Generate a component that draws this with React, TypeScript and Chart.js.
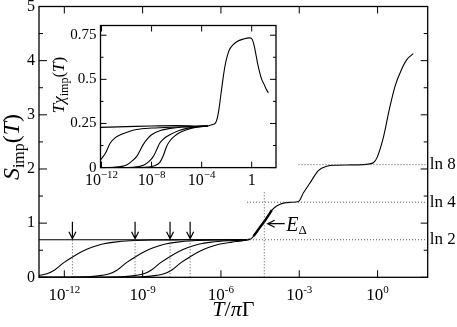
import React, { useEffect, useRef } from 'react';
import { Chart, registerables } from 'chart.js';

Chart.register(...registerables);

const FONT = '"Liberation Serif", "DejaVu Serif", serif';

// ---------------- main plot (x values are log10(T/πΓ)) ----------------
const xMinExp = -12.97;
const xMaxExp = 1.92;
const yMin = 0;
const yMax = 5;

const mainExp = [-12.97, -8, -5.2, -4.885, -4.75, -4.6, -4.45, -4.34, -4.2, -4.05, -3.85, -3.61, -3.3, -3.03, -2.84, -2.59, -2.27, -1.95, -1.56, -1.0, -0.6, -0.35, -0.15, -0.03, 0.2, 0.45, 0.67, 0.9, 1.12, 1.37];
const mainS = [0.693, 0.693, 0.694, 0.70, 0.76, 0.86, 0.96, 1.03, 1.13, 1.24, 1.32, 1.37, 1.385, 1.40, 1.56, 1.74, 1.97, 2.05, 2.07, 2.075, 2.08, 2.09, 2.12, 2.2, 2.54, 3.1, 3.53, 3.82, 4.02, 4.13];

const curve1Exp = [-12.97, -12.67, -12.37, -12.02, -11.67, -11.32, -10.97, -10.57, -10.07, -9.47, -8.67, -7.5, -6.0, -5.0];
const curve1S = [0.035, 0.065, 0.135, 0.27, 0.38, 0.475, 0.55, 0.61, 0.65, 0.675, 0.688, 0.692, 0.693, 0.695];

const curve2Exp = [-12.97, -11.8, -11.0, -10.57, -10.27, -9.97, -9.62, -9.27, -8.92, -8.57, -8.17, -7.67, -7.07, -6.27, -5.3, -5.0];
const curve2S = [0.0, 0.002, 0.012, 0.035, 0.065, 0.135, 0.27, 0.38, 0.475, 0.55, 0.61, 0.65, 0.675, 0.688, 0.692, 0.695];

const curve3Exp = [-12.97, -10.5, -9.7, -9.26, -8.96, -8.66, -8.31, -7.96, -7.61, -7.26, -6.86, -6.36, -5.76, -5.2, -4.9];
const curve3S = [0.0, 0.002, 0.012, 0.035, 0.065, 0.135, 0.27, 0.38, 0.475, 0.55, 0.61, 0.65, 0.675, 0.686, 0.70];

const curve4Exp = [-12.97, -9.7, -8.9, -8.48, -8.18, -7.88, -7.53, -7.18, -6.83, -6.48, -6.08, -5.58, -5.2, -4.9];
const curve4S = [0.0, 0.002, 0.012, 0.035, 0.065, 0.135, 0.27, 0.38, 0.475, 0.55, 0.61, 0.65, 0.672, 0.70];

// reference levels
const levelValues = [Math.log(2), Math.log(4), Math.log(8)];
const levelLabels = ['ln 2', 'ln 4', 'ln 8'];
const levelStartExp = [-5.0, -5.0, -3.03];

// arrows marking the crossover temperatures
const arrowExp = [-11.69, -9.29, -7.95, -7.18];
const eDeltaExp = -4.34;
const eDeltaTop = 1.6;
const eDeltaArrowExp = -4.21;
const eDeltaArrowS = 0.99;

const mainXTickExp = [-12, -9, -6, -3, 0];
const mainYMajor = [0, 1, 2, 3, 4, 5];
const mainYMinor = [0.5, 1.5, 2.5, 3.5, 4.5];

// ---------------- inset (T χ_imp) ----------------
const insetXMinExp = -12.08;
const insetXMaxExp = 1.94;
const insetYMax = 0.805;

const insetTopExp = [-12.08, -10, -8, -6, -5, -4, -3.5, -3.2, -2.9, -2.75, -2.6, -2.45, -2.3, -2.15, -2.0, -1.8, -1.5, -1.2, -0.67, -0.14, 0.05, 0.2, 0.35, 0.5, 0.65, 0.8, 1.0, 1.15, 1.33];
const insetTopChi = [0.228, 0.232, 0.236, 0.238, 0.237, 0.235, 0.236, 0.243, 0.252, 0.28, 0.34, 0.42, 0.5, 0.57, 0.62, 0.665, 0.695, 0.713, 0.728, 0.735, 0.725, 0.69, 0.635, 0.58, 0.535, 0.5, 0.47, 0.445, 0.424];

const insetAExp = [-12.08, -11.7, -11.3, -10.9, -10.5, -9.8, -9.2, -8.0, -6.0, -4.5, -3.5];
const insetAChi = [0.043, 0.08, 0.139, 0.17, 0.186, 0.205, 0.216, 0.224, 0.23, 0.233, 0.236];

const insetBExp = [-12.08, -11.0, -10.0, -9.6, -9.2, -8.9, -8.67, -8.3, -8.0, -7.3, -6.5, -5.5, -4.5, -3.5];
const insetBChi = [0.0, 0.002, 0.015, 0.035, 0.062, 0.1, 0.13, 0.165, 0.186, 0.21, 0.222, 0.23, 0.233, 0.236];

const insetCExp = [-12.08, -9.5, -8.6, -8.2, -7.87, -7.6, -7.34, -7.0, -6.54, -5.8, -5.0, -4.2, -3.5];
const insetCChi = [0.0, 0.002, 0.015, 0.035, 0.062, 0.1, 0.139, 0.165, 0.186, 0.21, 0.225, 0.232, 0.236];

const insetDExp = [-12.08, -8.5, -7.7, -7.34, -7.05, -6.8, -6.5, -6.14, -5.7, -5.2, -4.5, -3.5];
const insetDChi = [0.0, 0.002, 0.012, 0.03, 0.07, 0.12, 0.155, 0.18, 0.2, 0.215, 0.228, 0.236];

const insetXTickExp = [-12, -8, -4, 0];
const insetYMajor = [0, 0.25, 0.5, 0.75];
const insetYLabels = ['0', '0.25', '0.5', '0.75'];
const insetYMinor = [0.125, 0.375, 0.625];

// ---------------- helpers ----------------
type Part = { t: string; size: number; italic?: boolean; dy?: number };

const pts = (exps: number[], vals: number[]) => exps.map((e, i) => ({ x: Math.pow(10, e), y: vals[i] }));

function drawRich(ctx: CanvasRenderingContext2D, parts: Part[], x: number, y: number, align: 'center' | 'left', rot = 0) {
  const fontOf = (p: Part) => `${p.italic ? 'italic ' : ''}${p.size}px ${FONT}`;
  ctx.save();
  ctx.translate(x, y);
  ctx.rotate(rot);
  ctx.textAlign = 'left';
  ctx.textBaseline = 'alphabetic';
  ctx.fillStyle = '#000';
  let w = 0;
  for (const p of parts) {
    ctx.font = fontOf(p);
    w += ctx.measureText(p.t).width;
  }
  let cx = align === 'center' ? -w / 2 : 0;
  for (const p of parts) {
    ctx.font = fontOf(p);
    ctx.fillText(p.t, cx, p.dy || 0);
    cx += ctx.measureText(p.t).width;
  }
  ctx.restore();
}

const curveStyle = {
  borderColor: '#000',
  borderWidth: 1.1,
  pointRadius: 0,
  fill: false,
  cubicInterpolationMode: 'monotone' as const,
};
const dotStyle = {
  borderColor: '#555',
  borderWidth: 1,
  borderDash: [1, 2],
  pointRadius: 0,
  fill: false,
};

const mainDecor = {
  id: 'mainDecor',
  afterDraw(chart: any) {
    const { ctx, chartArea: a } = chart;
    const x = chart.scales.x;
    const y = chart.scales.y;
    ctx.save();
    ctx.strokeStyle = '#000';
    ctx.lineWidth = 1.3;
    ctx.strokeRect(a.left, a.top, a.right - a.left, a.bottom - a.top);
    ctx.lineWidth = 1;
    ctx.beginPath();
    for (const e of mainXTickExp) {
      const px = x.getPixelForValue(Math.pow(10, e));
      ctx.moveTo(px, a.bottom); ctx.lineTo(px, a.bottom - 7);
      ctx.moveTo(px, a.top); ctx.lineTo(px, a.top + 7);
    }
    for (const v of mainYMajor) {
      const py = y.getPixelForValue(v);
      ctx.moveTo(a.left, py); ctx.lineTo(a.left + 8, py);
      ctx.moveTo(a.right, py); ctx.lineTo(a.right - 7, py);
    }
    for (const v of mainYMinor) {
      const py = y.getPixelForValue(v);
      ctx.moveTo(a.left, py); ctx.lineTo(a.left + 4, py);
      ctx.moveTo(a.right, py); ctx.lineTo(a.right - 4, py);
    }
    ctx.stroke();

    // x tick labels
    for (const e of mainXTickExp) {
      drawRich(ctx, [{ t: '10', size: 17 }, { t: String(e), size: 11, dy: -7 }], x.getPixelForValue(Math.pow(10, e)), a.bottom + 22.7, 'center');
    }
    // axis titles
    drawRich(ctx, [
      { t: 'T', size: 22, italic: true },
      { t: '/', size: 22 },
      { t: 'π', size: 22, italic: true },
      { t: 'Γ', size: 22 },
    ], (a.left + a.right) / 2, a.bottom + 39, 'center');
    drawRich(ctx, [
      { t: 'S', size: 24, italic: true },
      { t: 'imp', size: 16, dy: 4.5 },
      { t: '(', size: 24 },
      { t: 'T', size: 24, italic: true },
      { t: ')', size: 24 },
    ], 19, 147, 'center', -Math.PI / 2);

    // downward arrows
    ctx.lineWidth = 1.2;
    ctx.strokeStyle = '#000';
    const ly = y.getPixelForValue(levelValues[0]) - 1;
    for (const e of arrowExp) {
      const px = x.getPixelForValue(Math.pow(10, e));
      ctx.beginPath();
      ctx.moveTo(px, ly - 17); ctx.lineTo(px, ly);
      ctx.moveTo(px - 3.5, ly - 7); ctx.lineTo(px, ly); ctx.lineTo(px + 3.5, ly - 7);
      ctx.stroke();
    }
    // E_Δ arrow + label
    const tx = x.getPixelForValue(Math.pow(10, eDeltaArrowExp));
    const ty = y.getPixelForValue(eDeltaArrowS);
    ctx.beginPath();
    ctx.moveTo(tx + 17, ty); ctx.lineTo(tx, ty);
    ctx.moveTo(tx + 7, ty - 3.5); ctx.lineTo(tx, ty); ctx.lineTo(tx + 7, ty + 3.5);
    ctx.stroke();
    drawRich(ctx, [{ t: 'E', size: 20, italic: true }, { t: 'Δ', size: 13, dy: 2.5 }], tx + 18.5, ty + 7.5, 'left');
    ctx.restore();
  },
};

function mainConfig(): any {
  return {
    type: 'line',
    data: {
      datasets: [
        ...levelValues.map((v, i) => ({ ...dotStyle, data: [{ x: Math.pow(10, levelStartExp[i]), y: v }, { x: Math.pow(10, xMaxExp), y: v }] })),
        ...arrowExp.map((e) => ({ ...dotStyle, data: [{ x: Math.pow(10, e), y: 0 }, { x: Math.pow(10, e), y: levelValues[0] }] })),
        { ...dotStyle, data: [{ x: Math.pow(10, eDeltaExp), y: 0 }, { x: Math.pow(10, eDeltaExp), y: eDeltaTop }] },
        { ...curveStyle, data: pts(curve1Exp, curve1S) },
        { ...curveStyle, data: pts(curve2Exp, curve2S) },
        { ...curveStyle, data: pts(curve3Exp, curve3S) },
        { ...curveStyle, data: pts(curve4Exp, curve4S) },
        { ...curveStyle, data: pts(mainExp, mainS) },
        { ...curveStyle, borderWidth: 2.4, data: pts(mainExp, mainS).filter((p) => p.x >= Math.pow(10, -4.76) && p.x <= Math.pow(10, -4.04)) },
      ],
    },
    options: {
      animation: false,
      responsive: false,
      devicePixelRatio: 1,
      events: [],
      layout: { padding: { top: 6.5, left: 0, right: 0, bottom: 0 } },
      plugins: { legend: { display: false }, tooltip: { enabled: false } },
      scales: {
        x: {
          type: 'logarithmic',
          min: Math.pow(10, xMinExp),
          max: Math.pow(10, xMaxExp),
          grid: { display: false, drawTicks: false },
          border: { display: false },
          ticks: { display: false },
          afterBuildTicks: (s: any) => { s.ticks = mainXTickExp.map((e) => ({ value: Math.pow(10, e) })); },
          afterFit: (s: any) => { s.height = 49.7; s.paddingLeft = 0; s.paddingRight = 0; },
        },
        y: {
          type: 'linear',
          position: 'left',
          min: yMin,
          max: yMax,
          grid: { display: false, drawTicks: false },
          border: { display: false },
          ticks: { padding: 4, color: '#000', font: { family: FONT, size: 16 }, callback: (v: any) => String(v) },
          afterBuildTicks: (s: any) => { s.ticks = mainYMajor.map((v) => ({ value: v })); },
          afterFit: (s: any) => { s.width = 39; s.paddingTop = 0; s.paddingBottom = 0; },
        },
        yR: {
          type: 'linear',
          position: 'right',
          min: yMin,
          max: yMax,
          grid: { display: false, drawTicks: false },
          border: { display: false },
          ticks: { padding: 2, color: '#000', font: { family: FONT, size: 17 }, callback: (_v: any, i: number) => levelLabels[i] },
          afterBuildTicks: (s: any) => { s.ticks = levelValues.map((v) => ({ value: v })); },
          afterFit: (s: any) => { s.width = 29.3; s.paddingTop = 0; s.paddingBottom = 0; },
        },
      },
    },
    plugins: [mainDecor],
  };
}

const insetDecor = {
  id: 'insetDecor',
  beforeDraw(chart: any) {
    const { ctx, chartArea: a } = chart;
    ctx.save();
    ctx.fillStyle = '#fff';
    ctx.fillRect(a.left, a.top, a.right - a.left, a.bottom - a.top);
    ctx.restore();
  },
  afterDraw(chart: any) {
    const { ctx, chartArea: a } = chart;
    const x = chart.scales.x;
    const y = chart.scales.y;
    ctx.save();
    ctx.strokeStyle = '#000';
    ctx.lineWidth = 1.3;
    ctx.strokeRect(a.left, a.top, a.right - a.left, a.bottom - a.top);
    ctx.lineWidth = 1;
    ctx.beginPath();
    for (const e of insetXTickExp) {
      const px = x.getPixelForValue(Math.pow(10, e));
      ctx.moveTo(px, a.bottom); ctx.lineTo(px, a.bottom - 6);
      ctx.moveTo(px, a.top); ctx.lineTo(px, a.top + 6);
    }
    for (const v of insetYMajor) {
      const py = y.getPixelForValue(v);
      ctx.moveTo(a.left, py); ctx.lineTo(a.left + 6, py);
      ctx.moveTo(a.right, py); ctx.lineTo(a.right - 6, py);
    }
    for (const v of insetYMinor) {
      const py = y.getPixelForValue(v);
      ctx.moveTo(a.left, py); ctx.lineTo(a.left + 3, py);
      ctx.moveTo(a.right, py); ctx.lineTo(a.right - 3, py);
    }
    ctx.stroke();
    for (const e of insetXTickExp) {
      const px = x.getPixelForValue(Math.pow(10, e));
      const parts: Part[] = e === 0
        ? [{ t: '1', size: 16 }]
        : [{ t: '10', size: 16 }, { t: '−' + String(-e), size: 11, dy: -7 }];
      drawRich(ctx, parts, px, a.bottom + 17.5, 'center');
    }
    drawRich(ctx, [
      { t: 'T', size: 17, italic: true },
      { t: 'χ', size: 17, italic: true },
      { t: 'imp', size: 12, dy: 3.5 },
      { t: '(', size: 17 },
      { t: 'T', size: 17, italic: true },
      { t: ')', size: 17 },
    ], 64, 85, 'center', -Math.PI / 2);
    ctx.restore();
  },
};

function insetConfig(): any {
  return {
    type: 'line',
    data: {
      datasets: [
        { ...curveStyle, data: pts(insetAExp, insetAChi) },
        { ...curveStyle, data: pts(insetBExp, insetBChi) },
        { ...curveStyle, data: pts(insetCExp, insetCChi) },
        { ...curveStyle, data: pts(insetDExp, insetDChi) },
        { ...curveStyle, data: pts(insetTopExp, insetTopChi) },
      ],
    },
    options: {
      animation: false,
      responsive: false,
      devicePixelRatio: 1,
      events: [],
      layout: { padding: { top: 25.5, left: 0, right: 181, bottom: 0 } },
      plugins: { legend: { display: false }, tooltip: { enabled: false } },
      scales: {
        x: {
          type: 'logarithmic',
          min: Math.pow(10, insetXMinExp),
          max: Math.pow(10, insetXMaxExp),
          grid: { display: false, drawTicks: false },
          border: { display: false },
          ticks: { display: false },
          afterBuildTicks: (s: any) => { s.ticks = insetXTickExp.map((e) => ({ value: Math.pow(10, e) })); },
          afterFit: (s: any) => { s.height = 159.4; s.paddingLeft = 0; s.paddingRight = 0; },
        },
        y: {
          type: 'linear',
          position: 'left',
          min: 0,
          max: insetYMax,
          grid: { display: false, drawTicks: false },
          border: { display: false },
          ticks: { padding: 4, color: '#000', font: { family: FONT, size: 15 }, callback: (_v: any, i: number) => insetYLabels[i] },
          afterBuildTicks: (s: any) => { s.ticks = insetYMajor.map((v) => ({ value: v })); },
          afterFit: (s: any) => { s.width = 100.5; s.paddingTop = 0; s.paddingBottom = 0; },
        },
      },
    },
    plugins: [insetDecor],
  };
}

export default function App() {
  const mainRef = useRef<HTMLCanvasElement>(null);
  const insetRef = useRef<HTMLCanvasElement>(null);
  useEffect(() => {
    const c1 = new Chart(mainRef.current as HTMLCanvasElement, mainConfig());
    const c2 = new Chart(insetRef.current as HTMLCanvasElement, insetConfig());
    return () => {
      c1.destroy();
      c2.destroy();
    };
  }, []);
  const cs: React.CSSProperties = { position: 'absolute', left: 0, top: 0, width: 457, height: 327 };
  return (
    <div style={{ position: 'absolute', left: 0, top: 0, width: 457, height: 327, background: '#fff' }}>
      <canvas ref={mainRef} width={457} height={327} style={cs} />
      <canvas ref={insetRef} width={457} height={327} style={cs} />
    </div>
  );
}
